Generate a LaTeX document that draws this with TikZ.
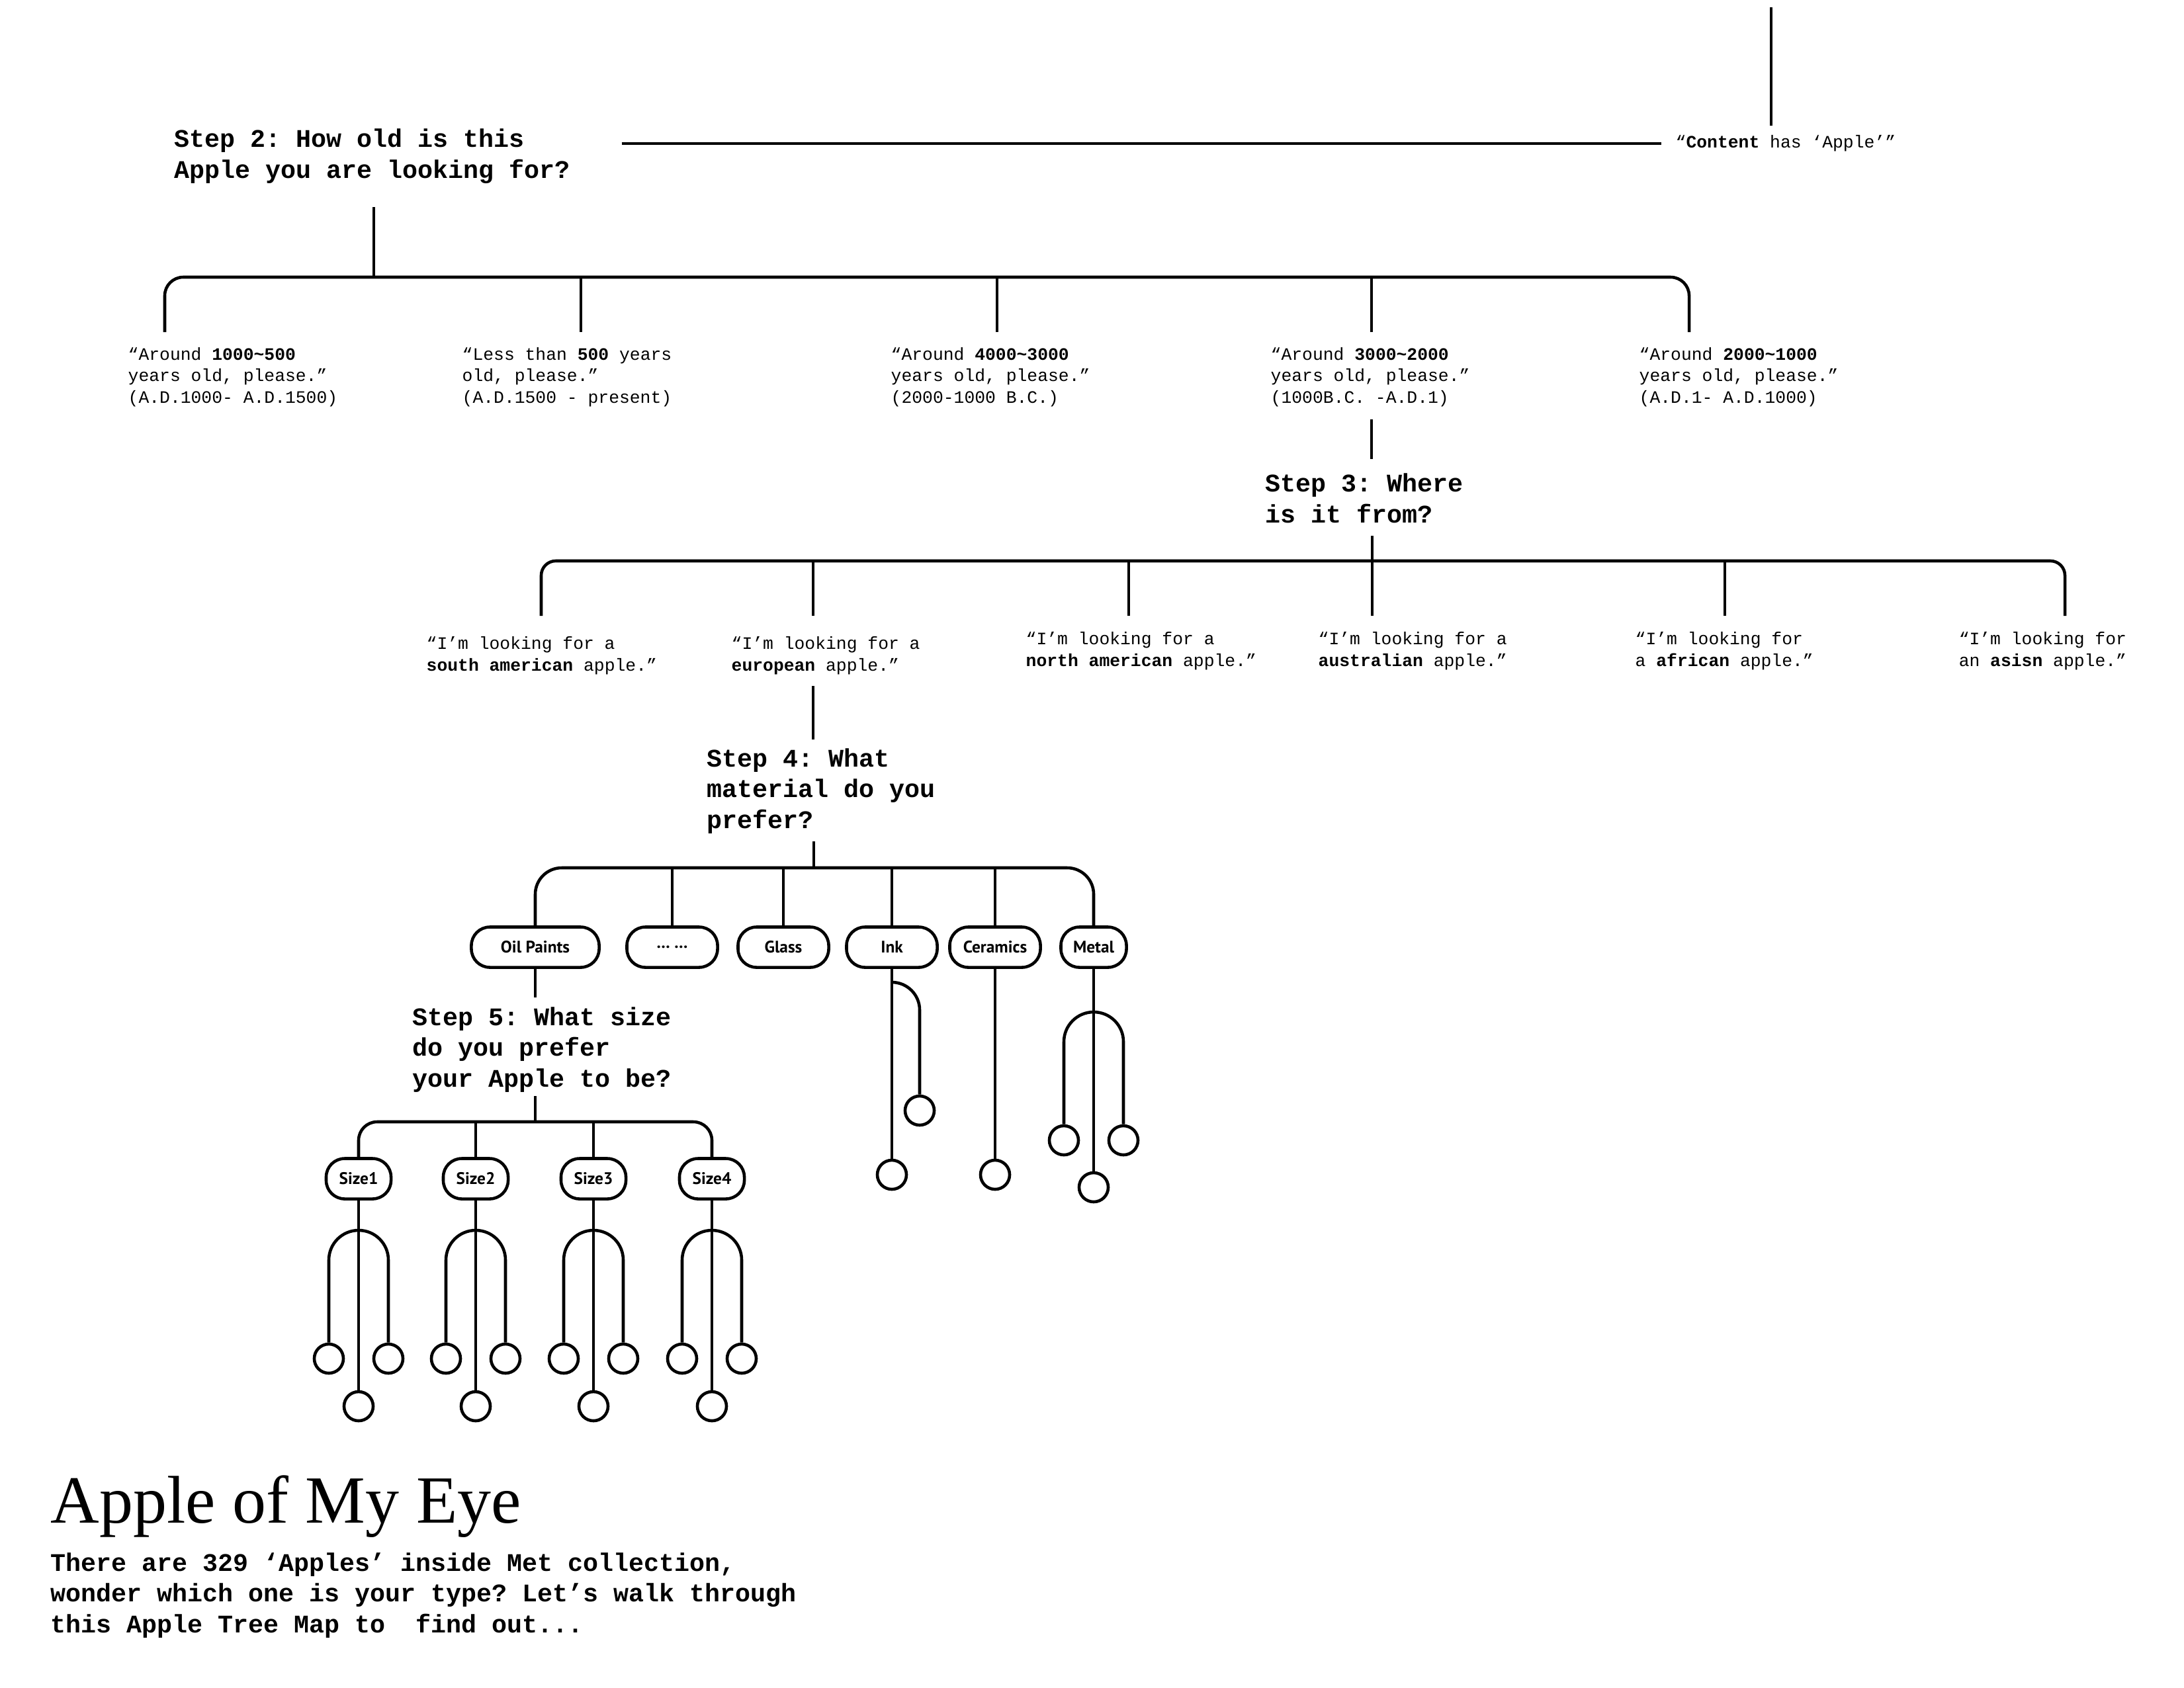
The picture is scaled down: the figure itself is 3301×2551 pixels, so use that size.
\documentclass[tikz,border=0pt]{standalone}
\usepackage{fontspec}
\setmainfont{Liberation Serif}
\setmonofont{Liberation Mono}
\newfontfamily\pillfont{PT Sans}
\usetikzlibrary{positioning}

\tikzset{
  stepq/.style={anchor=west, inner sep=0pt, align=left, font=\ttfamily\bfseries\fontsize{10.9}{13.3}\selectfont},
  answer/.style={anchor=west, inner sep=0pt, align=left, font=\ttfamily\fontsize{7.5}{9.2}\selectfont},
  pill/.style={draw, line width=1.3pt, rounded corners=0.28cm, minimum height=0.61cm, inner sep=0pt, font=\pillfont\bfseries\fontsize{7.2}{8}\selectfont},
  leaf/.style={draw, circle, line width=1.3pt, minimum size=0.44cm, inner sep=0pt},
  link/.style={line width=1.3pt},
}

\begin{document}
\begin{tikzpicture}[x=0.01cm, y=-0.01cm]
    \useasboundingbox (0,0) rectangle (3301,2551);

    % Step 1
    \coordinate (stepone) at (2677,11);
    \coordinate (steponeend) at (2677,190);
    \node[answer] (content) at (2532,217) {“\textbf{Content} has ‘Apple’”};
    \draw[link] (stepone) -- (steponeend);

    % Step 2: age
    \node[stepq] (step2) at (263,236) {Step 2: How old is this\\Apple you are looking for?};
    \draw[link] ([xshift=0.77cm]step2.east |- content.west) -- ([xshift=-0.21cm]content.west);

    \coordinate (q2top) at (565,313);
    \coordinate (q2bar) at (565,419);
    \coordinate (agedrop1) at (249,502);
    \coordinate (agedrop2) at (878,502);
    \coordinate (agedrop3) at (1507,502);
    \coordinate (agedrop4) at (2073,502);
    \coordinate (agedrop5) at (2553,502);
    \draw[link] (q2top) -- (q2bar);
    \draw[link, rounded corners=0.28cm] (agedrop1) |- (q2bar) -| (agedrop5);
    \foreach \i in {2,3,4}
        \draw[link] (agedrop\i) -- (agedrop\i |- q2bar);

    \node[answer] (age1) at (193,570) {“Around \textbf{1000\textasciitilde500}\\years old, please.”\\(A.D.1000- A.D.1500)};
    \node[answer] (age2) at (698,570) {“Less than \textbf{500} years\\old, please.”\\(A.D.1500 - present)};
    \node[answer] (age3) at (1346,570) {“Around \textbf{4000\textasciitilde3000}\\years old, please.”\\(2000-1000 B.C.)};
    \node[answer] (age4) at (1920,570) {“Around \textbf{3000\textasciitilde2000}\\years old, please.”\\(1000B.C. -A.D.1)};
    \node[answer] (age5) at (2477,570) {“Around \textbf{2000\textasciitilde1000}\\years old, please.”\\(A.D.1- A.D.1000)};

    % Step 3: place
    \coordinate (age4out) at (2073,634);
    \coordinate (q3in) at (2073,694);
    \draw[link] (age4out) -- (q3in);
    \node[stepq] (step3) at (1912,753) {Step 3: Where\\is it from?};

    \coordinate (q3top) at (2074,810);
    \coordinate (q3bar) at (2074,848);
    \coordinate (regdrop1) at (818,931);
    \coordinate (regdrop2) at (1229,931);
    \coordinate (regdrop3) at (1706,931);
    \coordinate (regdrop4) at (2074,931);
    \coordinate (regdrop5) at (2607,931);
    \coordinate (regdrop6) at (3121,931);
    \draw[link] (q3top) -- (regdrop4);
    \draw[link, rounded corners=0.22cm] (regdrop1) |- (q3bar) -| (regdrop6);
    \foreach \i in {2,3,5}
        \draw[link] (regdrop\i) -- (regdrop\i |- q3bar);

    \node[answer] (reg1) at (644,991) {“I’m looking for a\\\textbf{south american} apple.”};
    \node[answer] (reg2) at (1105,991) {“I’m looking for a\\\textbf{european} apple.”};
    \node[answer] (reg3) at (1550,984) {“I’m looking for a\\\textbf{north american} apple.”};
    \node[answer] (reg4) at (1992,984) {“I’m looking for a\\\textbf{australian} apple.”};
    \node[answer] (reg5) at (2471,984) {“I’m looking for\\a \textbf{african} apple.”};
    \node[answer] (reg6) at (2960,984) {“I’m looking for\\an \textbf{asisn} apple.”};

    % Step 4: material
    \coordinate (reg2out) at (1229,1037);
    \coordinate (q4in) at (1229,1118);
    \draw[link] (reg2out) -- (q4in);
    \node[stepq] (step4) at (1068,1196) {Step 4: What\\material do you\\prefer?};

    \node[pill, minimum width=1.93cm] (mat1) at (809,1432) {Oil Paints};
    \node[pill, minimum width=1.37cm] (mat2) at (1016,1432) {… …};
    \node[pill, minimum width=1.37cm] (mat3) at (1184,1432) {Glass};
    \node[pill, minimum width=1.37cm] (mat4) at (1348,1432) {Ink};
    \node[pill, minimum width=1.37cm] (mat5) at (1504,1432) {Ceramics};
    \node[pill, minimum width=0.99cm] (mat6) at (1653,1432) {Metal};

    \coordinate (q4top) at (1230,1272);
    \coordinate (q4bar) at (1230,1312);
    \draw[link] (q4top) -- (q4bar);
    \draw[link, rounded corners=0.4cm] (mat1.north) |- (q4bar) -| (mat6.north);
    \foreach \i in {2,...,5}
        \draw[link] (mat\i.north) -- (mat\i.north |- q4bar);

    % Ink, Ceramics, Metal
    \node[leaf] (inkA) at (1348,1776) {};
    \node[leaf] (inkB) at (1390,1679) {};
    \coordinate (inkfork) at (1348,1485);
    \draw[link] (mat4.south) -- (inkA.north);
    \draw[link, rounded corners=0.42cm] (inkfork) -| (inkB.north);

    \node[leaf] (ceramA) at (1504,1776) {};
    \draw[link] (mat5.south) -- (ceramA.north);

    \node[leaf] (metalM) at (1653,1795) {};
    \node[leaf] (metalL) at (1608,1724) {};
    \node[leaf] (metalR) at (1698,1724) {};
    \coordinate (metalfork) at (1653,1530);
    \draw[link] (mat6.south) -- (metalM.north);
    \draw[link, rounded corners=0.45cm] (metalL.north) |- (metalfork);
    \draw[link, rounded corners=0.45cm] (metalR.north) |- (metalfork);

    % Step 5: size
    \coordinate (oilout) at (809,1508);
    \draw[link] (mat1.south) -- (oilout);
    \node[stepq] (step5) at (623,1587) {Step 5: What size\\do you prefer\\your Apple to be?};

    \coordinate (q5top) at (809,1657);
    \coordinate (q5bar) at (809,1696);
    \draw[link] (q5top) -- (q5bar);

    \foreach \i/\x in {1/542,2/719,3/897,4/1076} {
        \node[pill, minimum width=0.98cm] (size\i) at (\x,1782) {Size\i};
        \node[leaf] (szm\i) at (\x,2126) {};
        \node[leaf] (szl\i) at ({\x-45},2054) {};
        \node[leaf] (szr\i) at ({\x+45},2054) {};
        \coordinate (szfork\i) at (\x,1860);
        \draw[link] (size\i.south) -- (szm\i.north);
        \draw[link, rounded corners=0.45cm] (szl\i.north) |- (szfork\i);
        \draw[link, rounded corners=0.45cm] (szr\i.north) |- (szfork\i);
    }
    \draw[link, rounded corners=0.28cm] (size1.north) |- (q5bar) -| (size4.north);
    \foreach \i in {2,3}
        \draw[link] (size\i.north) -- (size\i.north |- q5bar);

    % Title
    \node[anchor=base west, inner sep=0pt, font=\fontsize{29}{30}\selectfont] (title) at (76,2302) {Apple of My Eye};
    \node[stepq] (intro) at (76,2412) {There are 329 ‘Apples’ inside Met collection,\\wonder which one is your type? Let’s walk through\\this Apple Tree Map to\ \ find out...};

\end{tikzpicture}
\end{document}
